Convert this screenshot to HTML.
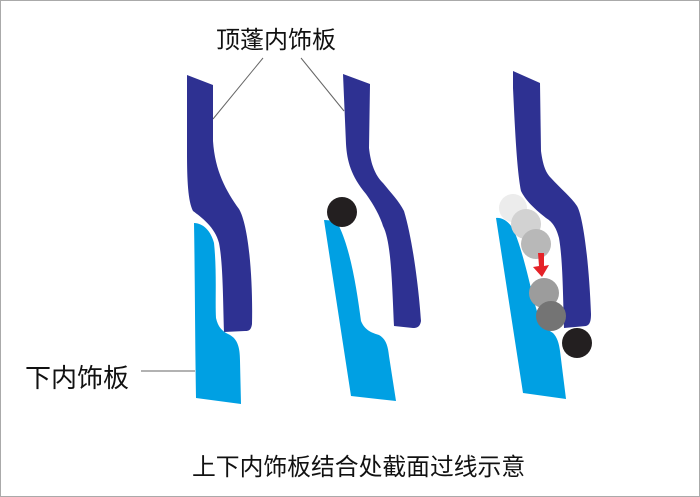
<!DOCTYPE html>
<html><head><meta charset="utf-8"><style>
html,body{margin:0;padding:0;background:#fff}
.w{position:relative;width:700px;height:497px;box-sizing:border-box;border:1px solid #aaa;overflow:hidden}
.t{position:absolute;font-family:"Liberation Sans","Noto Sans CJK SC",sans-serif;color:#111;white-space:nowrap;line-height:1}
</style></head><body><div class="w">
<svg width="700" height="497" style="position:absolute;left:0;top:0">
<g stroke="#666" stroke-width="1" fill="none">
<line x1="262" y1="57" x2="212" y2="118"/>
<line x1="300" y1="57" x2="343" y2="110"/>
<line x1="140" y1="370" x2="194" y2="370"/>
</g>
<path d="M186,74 L212,84 L212,140 C214,170 225,190 238,208 C248,225 252,280 251,323 C250,330 247,330 244,330 L223,331 C222,300 222,262 218,242 C214,226 200,216 192,210 C187,200 186,180 186,150 Z" fill="#2e3192"/>
<path d="M193,222 C202,222 210,230 213,242 C216,270 214,300 215,317 C217,326 221,330 227,333 C236,337 239,345 239,360 L240,403 L195,397 C194,340 194,280 193,222 Z" fill="#00a0e3"/>
<path d="M342,73 L369,83 L368,147 C370,165 375,175 382,182 C390,192 398,200 403,210 C412,240 418,290 420,320 C419,326 416,327 412,327 L393,325 C391,280 390,240 382,225 C378,212 370,200 365,193 C350,175 346,160 345,143 Z" fill="#2e3192"/>
<path d="M323,219 C330,219 336,221 338,225 C350,250 356,290 360,320 C364,330 372,332 378,334 C385,338 387,345 388,355 L395,400 L350,395 Z" fill="#00a0e3"/>
<circle cx="341" cy="211" r="15" fill="#231f20"/>
<path d="M512,70 L539,82 L540,150 C542,165 545,172 550,177 C560,188 570,196 576,205 C582,215 588,260 590,313 C590,322 588,324 585,325 L563,327 C562,300 562,260 558,237 C555,225 550,220 545,217 C530,205 524,198 520,190 C516,170 514,130 512,87 Z" fill="#2e3192"/>
<path d="M495,217 C502,216 510,222 514,232 C525,260 532,300 537,313 C541,322 545,328 552,332 C556,336 558,342 559,350 L565,398 L522,392 Z" fill="#00a0e3"/>
<circle cx="512" cy="207" r="14" fill="#ececec"/>
<circle cx="525" cy="223" r="15" fill="#d2d2d2"/>
<circle cx="535" cy="243" r="15" fill="#b8b8b8"/>
<circle cx="543" cy="292" r="15" fill="#9c9c9c"/>
<circle cx="550" cy="315" r="15" fill="#747474"/>
<circle cx="576" cy="342" r="15" fill="#231f20"/>
<path d="M537,252 L543,252 L543,265 L548,264 L541,276 L532,266 L538,265 Z" fill="#e52228"/>
</svg>
<div class="t" style="left:215px;top:28px;font-size:24px">顶蓬内饰板</div>
<div class="t" style="left:24px;top:364px;font-size:26px">下内饰板</div>
<div class="t" style="left:191px;top:455px;font-size:23.8px">上下内饰板结合处截面过线示意</div>
</div></body></html>
